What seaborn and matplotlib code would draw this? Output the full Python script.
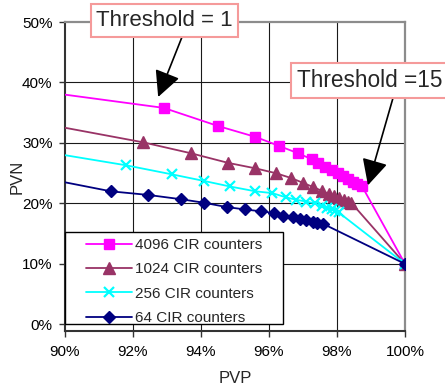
import matplotlib
matplotlib.use("Agg")
import matplotlib.pyplot as plt
import seaborn as sns
import pandas as pd
from matplotlib.patches import Rectangle
from matplotlib.ticker import FuncFormatter, FixedLocator

# ---------------- data (percent) ----------------
series_names = ["4096 CIR counters", "1024 CIR counters", "256 CIR counters", "64 CIR counters"]

pvp_4096 = [86.0, 92.9, 94.5, 95.6, 96.3, 96.85, 97.26, 97.45, 97.65, 97.85, 98.02, 98.18, 98.33, 98.47, 98.6, 98.74, 100.0]
pvn_4096 = [41.0, 35.8, 32.8, 31.0, 29.5, 28.3, 27.3, 26.7, 26.1, 25.6, 25.1, 24.6, 24.1, 23.6, 23.2, 22.8, 10.0]

pvp_1024 = [86.0, 92.3, 93.7, 94.8, 95.6, 96.2, 96.65, 97.0, 97.3, 97.55, 97.75, 97.92, 98.07, 98.2, 98.32, 98.42, 100.0]
pvn_1024 = [36.7, 30.1, 28.3, 26.7, 25.8, 25.0, 24.2, 23.4, 22.7, 22.1, 21.6, 21.2, 20.9, 20.6, 20.3, 20.1, 10.0]

pvp_256 = [86.0, 91.8, 93.15, 94.1, 94.85, 95.6, 96.1, 96.5, 96.8, 97.1, 97.35, 97.55, 97.7, 97.85, 97.95, 98.05, 100.0]
pvn_256 = [31.7, 26.3, 24.8, 23.7, 22.8, 22.0, 21.7, 21.0, 20.6, 20.3, 20.0, 19.6, 19.3, 19.0, 18.8, 18.5, 10.0]

pvp_64 = [86.0, 91.35, 92.45, 93.4, 94.1, 94.75, 95.3, 95.75, 96.15, 96.4, 96.7, 96.9, 97.1, 97.3, 97.4, 97.6, 100.0]
pvn_64 = [27.9, 22.0, 21.4, 20.7, 20.1, 19.4, 19.0, 18.7, 18.4, 18.0, 17.7, 17.5, 17.3, 17.0, 16.8, 16.6, 10.0]

x_ticks = [90, 92, 94, 96, 98, 100]
y_ticks = [0, 10, 20, 30, 40, 50]
annotation_texts = ["Threshold = 1", "Threshold =15"]

# ---------------- styling ----------------
sns.set_style("white")
plt.rcParams["font.family"] = ["Liberation Sans", "DejaVu Sans"]

W, H = 445, 387
fig = plt.figure(figsize=(W / 100, H / 100), dpi=100)
ax_left, ax_right, ax_top, ax_bottom = 65, 405, 22, 331
ax = fig.add_axes([ax_left / W, 1 - ax_bottom / H, (ax_right - ax_left) / W, (ax_bottom - ax_top) / H])

styles = [
    dict(color="#FF00FF", marker="s", ms=7.5, mew=1.0),
    dict(color="#993366", marker="^", ms=8.0, mew=1.0),
    dict(color="#00FFFF", marker="x", ms=7.5, mew=1.6),
    dict(color="#000080", marker="D", ms=6.5, mew=1.0),
]
xs = [pvp_4096, pvp_1024, pvp_256, pvp_64]
ys = [pvn_4096, pvn_1024, pvn_256, pvn_64]

for name, x, y, st in zip(series_names, xs, ys, styles):
    df = pd.DataFrame({"PVP": x, "PVN": y})
    sns.lineplot(data=df, x="PVP", y="PVN", ax=ax, color=st["color"], marker=st["marker"],
                 markersize=st["ms"], markeredgewidth=st["mew"], markeredgecolor=st["color"],
                 markerfacecolor=st["color"], linewidth=1.3, label=name, zorder=3, sort=False)

ax.set_xlim(90, 100)
ax.set_ylim(-1.1, 50)
ax.xaxis.set_major_locator(FixedLocator(x_ticks))
ax.yaxis.set_major_locator(FixedLocator(y_ticks))
pct = FuncFormatter(lambda v, p: f"{v:.0f}%")
ax.xaxis.set_major_formatter(pct)
ax.yaxis.set_major_formatter(pct)

# grid (not at 0 / borders)
for gx in x_ticks[1:-1]:
    ax.axvline(gx, color="#1a1a1a", lw=0.8, zorder=1)
for gy in y_ticks[1:-1]:
    ax.axhline(gy, color="#1a1a1a", lw=0.8, zorder=1)

for s in ["left", "bottom"]:
    ax.spines[s].set_color("#333333")
    ax.spines[s].set_linewidth(1.5)
for s in ["top", "right"]:
    ax.spines[s].set_color("#8c8c8c")
    ax.spines[s].set_linewidth(1.6)

ax.tick_params(axis="both", which="major", direction="out", length=4, width=1.0,
               color="#333333", labelsize=11, pad=5, labelcolor="black")
ax.tick_params(axis="x", bottom=True, pad=6)
ax.tick_params(axis="y", left=True)
ax.tick_params(top=False, right=False)

ax.set_xlabel("PVP", fontsize=12)
ax.set_ylabel("PVN", fontsize=12)
ax.xaxis.set_label_coords(0.5, -(371 - ax_bottom) / (ax_bottom - ax_top))
ax.yaxis.set_label_coords(-(ax_left - 25) / (ax_right - ax_left), 0.5)

# legend with Excel-like box
leg_box = Rectangle((65 / W, 1 - 324 / H), (283 - 65) / W, (324 - 232) / H,
                    transform=fig.transFigure, facecolor="white", edgecolor="black",
                    lw=1.0, zorder=4.5, clip_on=False)
ax.add_patch(leg_box)
handles, labels = ax.get_legend_handles_labels()
leg = ax.legend(handles, labels, loc="upper left", bbox_to_anchor=(86 / W, 1 - 238 / H),
                bbox_transform=fig.transFigure, frameon=False, fontsize=11,
                handlelength=3.0, handletextpad=0.2, borderpad=0, labelspacing=0.68,
                borderaxespad=0)
leg.set_zorder(5)

# annotations
bbox_kw = dict(boxstyle="square,pad=0.25", facecolor="white", edgecolor="#F59A9A", lw=1.5)
fig.text(164.5 / W, 1 - 20.5 / H, annotation_texts[0], fontsize=16, ha="center", va="center",
         bbox=bbox_kw, zorder=10)
fig.text(297 / W, 1 - 80.5 / H, annotation_texts[1], fontsize=16.3, ha="left", va="center",
         bbox=bbox_kw, zorder=10)

arrow_kw = dict(arrowstyle="-|>,head_length=0.8,head_width=0.4", color="black", lw=1.2,
                mutation_scale=20, shrinkA=0, shrinkB=0)
ax.annotate("", xy=(92.74, 37.6), xycoords="data", xytext=(182 / W, 1 - 37 / H),
            textcoords="figure fraction", arrowprops=arrow_kw, annotation_clip=False, zorder=9)
ax.annotate("", xy=(98.91, 23.0), xycoords="data", xytext=(393 / W, 1 - 98 / H),
            textcoords="figure fraction", arrowprops=arrow_kw, annotation_clip=False, zorder=9)

fig.savefig("out.png", dpi=100)
